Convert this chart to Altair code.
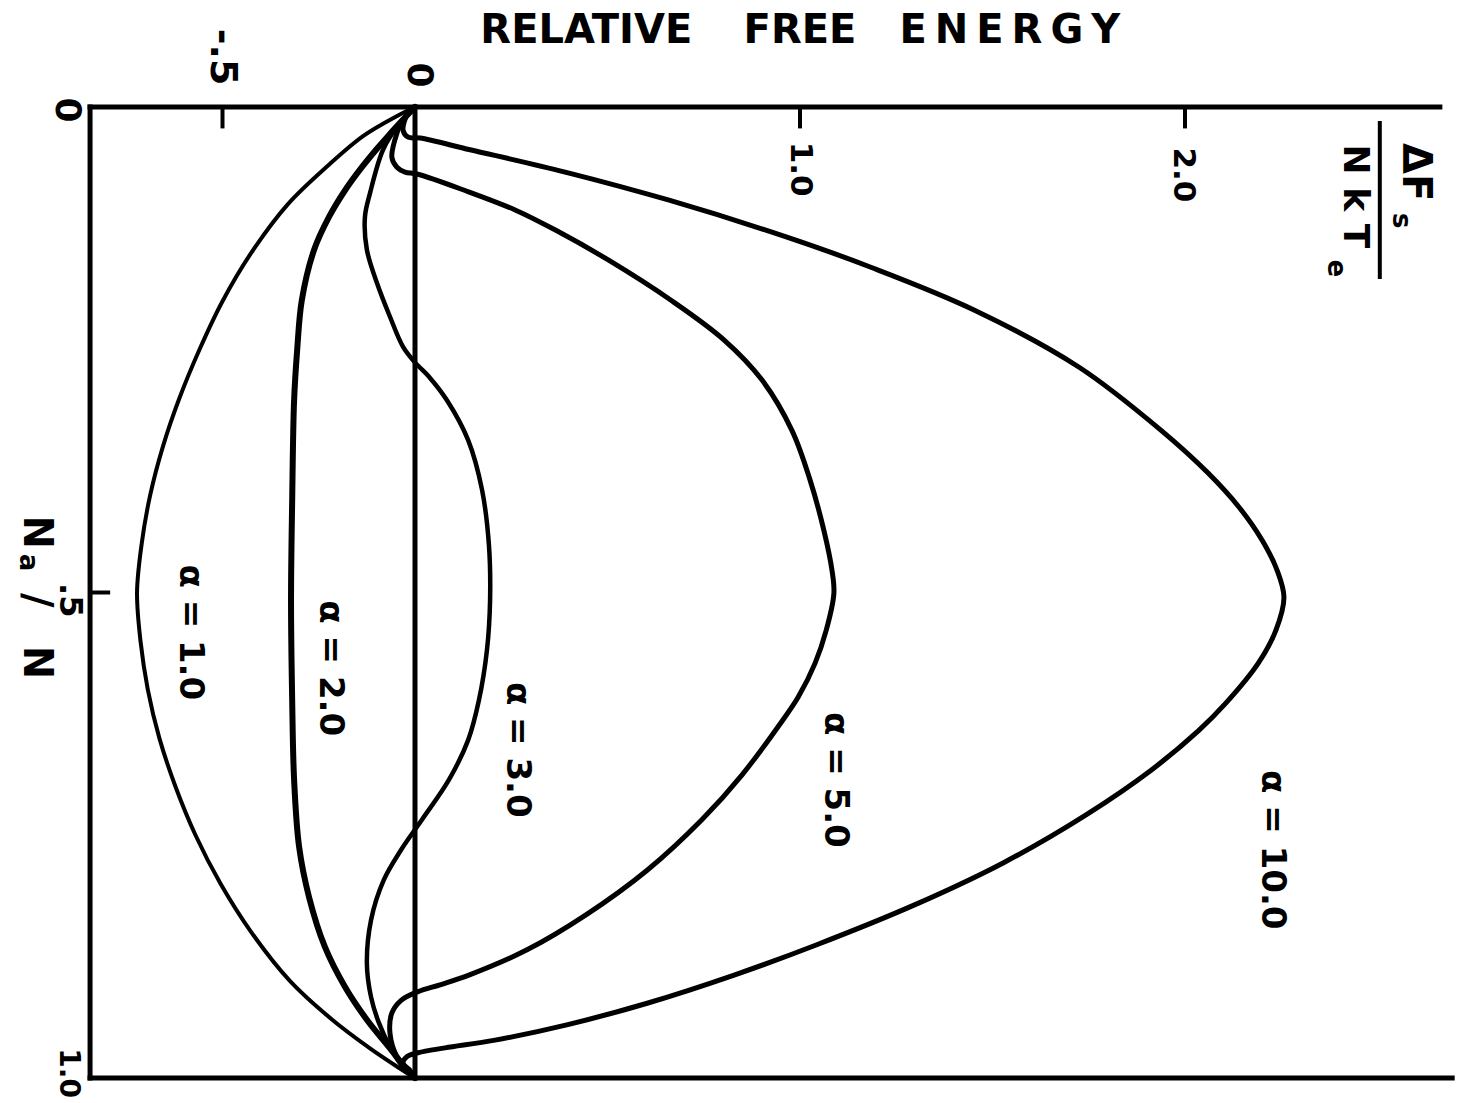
import altair as alt
import pandas as pd

# Relative free energy dF_s / N k T_e versus fraction N_a / N, one curve per alpha
alpha_1_n = [0, 0.01, 0.03, 0.06, 0.10, 0.15, 0.20, 0.25, 0.30, 0.35, 0.40, 0.45, 0.50,
             0.55, 0.60, 0.65, 0.70, 0.75, 0.80, 0.85, 0.90, 0.94, 0.97, 0.99, 1.0]
alpha_1_e = [0, -0.050, -0.135, -0.225, -0.330, -0.425, -0.500, -0.560, -0.612, -0.655, -0.688,
             -0.710, -0.722, -0.713, -0.694, -0.664, -0.622, -0.570, -0.505, -0.425, -0.325,
             -0.215, -0.115, -0.040, 0]

alpha_2_n = [0, 0.013, 0.029, 0.044, 0.062, 0.086, 0.113, 0.147, 0.199, 0.250, 0.302, 0.405,
             0.508, 0.611, 0.693, 0.762, 0.814, 0.865, 0.906, 0.940, 0.968, 0.989, 1.0]
alpha_2_e = [0, -0.031, -0.068, -0.101, -0.138, -0.182, -0.223, -0.262, -0.294, -0.306, -0.314,
             -0.319, -0.322, -0.319, -0.314, -0.301, -0.275, -0.234, -0.182, -0.125, -0.068,
             -0.026, 0]

alpha_3_n = [0, 0.019, 0.044, 0.089, 0.113, 0.147, 0.181, 0.216, 0.247, 0.263, 0.279, 0.302,
             0.343, 0.394, 0.451, 0.508, 0.559, 0.611, 0.652, 0.693, 0.734, 0.765, 0.796,
             0.837, 0.882, 0.917, 0.943, 0.968, 0.990, 1.0]
alpha_3_e = [0, -0.044, -0.083, -0.117, -0.130, -0.125, -0.099, -0.065, -0.031, 0, 0.039, 0.083,
             0.138, 0.174, 0.192, 0.195, 0.187, 0.166, 0.138, 0.088, 0.018, -0.036, -0.081,
             -0.114, -0.125, -0.114, -0.094, -0.065, -0.029, 0]

alpha_5_n = [0, 0.013, 0.027, 0.052, 0.062, 0.067, 0.069, 0.086, 0.106, 0.127, 0.158, 0.199,
             0.240, 0.281, 0.333, 0.384, 0.436, 0.477, 0.501, 0.539, 0.573, 0.608, 0.631,
             0.688, 0.734, 0.786, 0.832, 0.868, 0.894, 0.904, 0.911, 0.920, 0.933, 0.954,
             0.978, 1.0]
alpha_5_e = [0, -0.031, -0.047, -0.060, -0.047, -0.026, 0.005, 0.130, 0.260, 0.366, 0.504, 0.665,
             0.803, 0.901, 0.979, 1.026, 1.062, 1.083, 1.088, 1.068, 1.039, 0.995, 0.956,
             0.849, 0.745, 0.603, 0.444, 0.291, 0.140, 0.065, 0.008, -0.036, -0.060, -0.065,
             -0.047, 0]

alpha_10_n = [0, 0.006, 0.024, 0.031, 0.032, 0.044, 0.067, 0.096, 0.134, 0.165, 0.209, 0.268,
              0.333, 0.377, 0.412, 0.446, 0.477, 0.505, 0.539, 0.573, 0.614, 0.642, 0.683,
              0.729, 0.778, 0.822, 0.863, 0.894, 0.923, 0.945, 0.961, 0.969, 0.974, 0.978,
              0.985, 0.992, 1.0]
alpha_10_e = [0, -0.018, -0.031, -0.018, 0.013, 0.143, 0.390, 0.660, 0.966, 1.184, 1.452, 1.725,
              1.938, 2.060, 2.140, 2.200, 2.239, 2.257, 2.236, 2.190, 2.106, 2.036, 1.912,
              1.743, 1.530, 1.296, 1.042, 0.829, 0.603, 0.397, 0.208, 0.078, 0.008, -0.021,
              -0.031, -0.013, 0]

curve_names = ["α = 1.0", "α = 2.0", "α = 3.0", "α = 5.0", "α = 10.0"]
curve_n = [alpha_1_n, alpha_2_n, alpha_3_n, alpha_5_n, alpha_10_n]
curve_e = [alpha_1_e, alpha_2_e, alpha_3_e, alpha_5_e, alpha_10_e]

# curve labels, written sideways next to each curve
label_e = [-0.584, -0.221, 0.265, 1.091, 2.226]
label_n = [0.541, 0.578, 0.662, 0.693, 0.765]

# axis tick values
energy_ticks = [-0.5, 1.0, 2.0]

# plot frame extent in data units
E_LEFT, E_TOP_END, E_BOTTOM_END = -0.844, 2.662, 2.694

X_DOMAIN = [-1.07792, 2.72727]
Y_DOMAIN = [-0.11020, 1.02575]


def xenc(field="e"):
    return alt.X(f"{field}:Q", scale=alt.Scale(domain=X_DOMAIN, nice=False, zero=False), axis=None)


def yenc(field="n"):
    return alt.Y(f"{field}:Q", scale=alt.Scale(domain=Y_DOMAIN, nice=False, zero=False, reverse=True),
                 axis=None)


def text_layer(texts, es, ns, size, weight="bold", angle=90, font="DejaVu Sans"):
    d = pd.DataFrame({"t": texts, "e": es, "n": ns})
    return alt.Chart(d).mark_text(
        angle=angle, fontSize=size, fontWeight=weight, font=font,
        align="center", baseline="middle", color="black"
    ).encode(x=xenc(), y=yenc(), text="t:N")


def rule_layer(e, e2, n, n2, width):
    d = pd.DataFrame({"e": e, "e2": e2, "n": n, "n2": n2})
    return alt.Chart(d).mark_rule(color="black", strokeWidth=width, strokeCap="square").encode(
        x=xenc(), x2=alt.X2("e2:Q"), y=yenc(), y2=alt.Y2("n2:Q"))


# frame: top and bottom borders, left axis and the zero-energy line
frame = rule_layer([E_LEFT, E_LEFT, E_LEFT, 0.0], [E_TOP_END, E_BOTTOM_END, E_LEFT, 0.0],
                   [0, 1, 0, 0], [0, 1, 1, 1], 5)
top_ticks = rule_layer(energy_ticks, energy_ticks, [0] * 3, [0.02] * 3, 4)
left_tick = rule_layer([E_LEFT], [-0.797], [0.5], [0.5], 4)
fraction_bar = rule_layer([2.506], [2.506], [0.0165], [0.175], 4)

stroke_widths = {"α = 1.0": 4, "α = 2.0": 6, "α = 3.0": 4.5, "α = 5.0": 5, "α = 10.0": 5}
curves = []
for name, ns, es in zip(curve_names, curve_n, curve_e):
    d = pd.DataFrame({"n": ns, "e": es, "i": range(len(ns))})
    curves.append(
        alt.Chart(d).mark_line(color="black", strokeWidth=stroke_widths[name],
                               interpolate="catmull-rom", strokeJoin="round", strokeCap="round")
        .encode(x=xenc(), y=yenc(), order=alt.Order("i:Q"))
    )

layers = [frame, top_ticks, left_tick, fraction_bar] + curves + [
    # curve names
    text_layer(curve_names, label_e, label_n, 34),
    # energy tick labels along the top
    text_layer(["-.5"], [-0.501], [-0.0515], 38),
    text_layer(["0"], [0.010], [-0.033], 36),
    text_layer(["1.0", "2.0"], [1.0, 1.995], [0.064, 0.070], 31),
    # fraction tick labels on the left
    text_layer(["0"], [-0.904], [0.003], 36),
    text_layer([".5"], [-0.896], [0.508], 32),
    text_layer(["1.0"], [-0.901], [0.995], 28),
    # fraction axis title N_a / N
    text_layer(["N", "/", "N"], [-0.984, -0.984, -0.984], [0.438, 0.508, 0.572], 40),
    text_layer(["a"], [-1.005], [0.469], 26),
    # energy axis title dF_s / N k T_e
    text_layer(["ΔF"], [2.597], [0.067], 40),
    text_layer(["s"], [2.561], [0.117], 26),
    text_layer(["N k T"], [2.442], [0.092], 36),
    text_layer(["e"], [2.392], [0.166], 26),
    # heading
    text_layer(["RELATIVE", "FREE", "E\u2009N\u2009E\u2009R\u2009G\u2009Y"],
               [0.445, 1.0, 1.545], [-0.0783, -0.0783, -0.0783], 40, angle=0),
]

chart = alt.layer(*layers).properties(
    width=1465, height=1103, padding=0,
    autosize=alt.AutoSizeParams(type="none"),
    background="white",
).configure_view(stroke=None)

chart.save("out.html", embed_options={"renderer": "svg", "actions": False})
